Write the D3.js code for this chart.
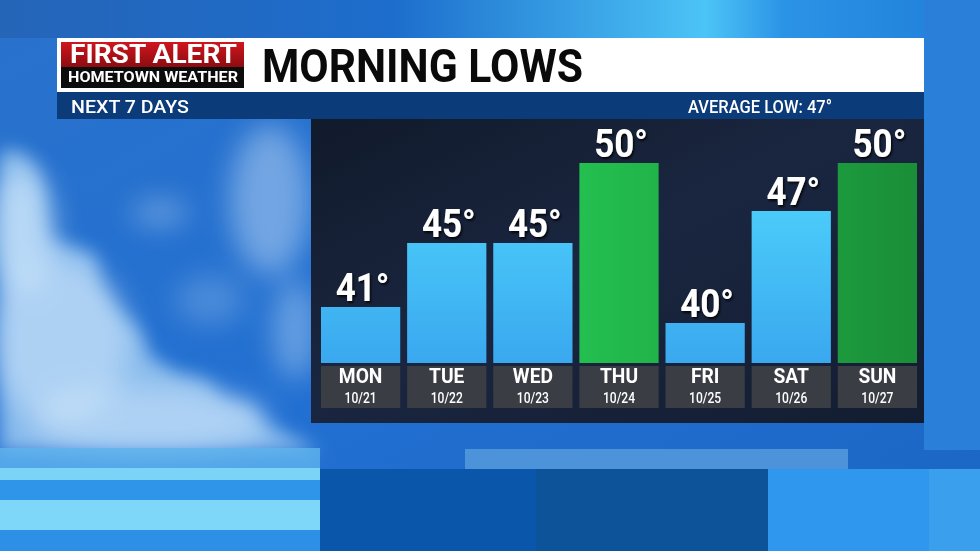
<!DOCTYPE html>
<head>
  <title>Morning Lows</title>
  <style>
    body { margin: 0; background: #1f6fce; }
    svg { display: block; }
    text { font-family: Roboto, "Noto Sans", sans-serif; }
  </style>
</head>
<body>
  <script src="https://cdn.jsdelivr.net/npm/d3@7/dist/d3.min.js"></script>
  <script>
    var days = ["MON", "TUE", "WED", "THU", "FRI", "SAT", "SUN"];
    var dates = ["10/21", "10/22", "10/23", "10/24", "10/25", "10/26", "10/27"];
    var lows = [41, 45, 45, 50, 40, 47, 50];
    var averageLow = 47;

    var data = days.map(function(d, i) {
      return { day: d, date: dates[i], low: lows[i] };
    });

    var W = 980, H = 551;

    var svg = d3.select("body").append("svg")
        .attr("width", W)
        .attr("height", H);

    var defs = svg.append("defs");

    // gradients
    var sky = defs.append("linearGradient").attr("id", "sky")
        .attr("x1", 0).attr("y1", 0).attr("x2", 1).attr("y2", 1);
    sky.append("stop").attr("offset", "0%").attr("stop-color", "#2a72cc");
    sky.append("stop").attr("offset", "50%").attr("stop-color", "#2270d2");
    sky.append("stop").attr("offset", "100%").attr("stop-color", "#1a66c4");

    var topBand = defs.append("linearGradient").attr("id", "topband")
        .attr("x1", 0).attr("y1", 0).attr("x2", 1).attr("y2", 0);
    topBand.append("stop").attr("offset", "0%").attr("stop-color", "#2565b8");
    topBand.append("stop").attr("offset", "40%").attr("stop-color", "#1d6dcc");
    topBand.append("stop").attr("offset", "72%").attr("stop-color", "#4cc4f6");
    topBand.append("stop").attr("offset", "80%").attr("stop-color", "#2b93e6");
    topBand.append("stop").attr("offset", "100%").attr("stop-color", "#1f7ed8");

    var red = defs.append("linearGradient").attr("id", "red")
        .attr("x1", 0).attr("y1", 0).attr("x2", 0).attr("y2", 1);
    red.append("stop").attr("offset", "0%").attr("stop-color", "#d0161e");
    red.append("stop").attr("offset", "100%").attr("stop-color", "#8c0c10");

    var panel = defs.append("linearGradient").attr("id", "panel")
        .attr("x1", 0).attr("y1", 0).attr("x2", 1).attr("y2", 1);
    panel.append("stop").attr("offset", "0%").attr("stop-color", "#111a2b");
    panel.append("stop").attr("offset", "45%").attr("stop-color", "#1a2640");
    panel.append("stop").attr("offset", "100%").attr("stop-color", "#131d31");

    var blueBar = defs.append("linearGradient").attr("id", "blueBar")
        .attr("gradientUnits", "userSpaceOnUse")
        .attr("x1", 0).attr("y1", 164).attr("x2", 0).attr("y2", 363);
    blueBar.append("stop").attr("offset", "0%").attr("stop-color", "#50d6fd");
    blueBar.append("stop").attr("offset", "100%").attr("stop-color", "#3aa8ef");

    var greenBar = defs.append("linearGradient").attr("id", "greenBar")
        .attr("gradientUnits", "userSpaceOnUse")
        .attr("x1", 580).attr("y1", 0).attr("x2", 916).attr("y2", 0);
    greenBar.append("stop").attr("offset", "0%").attr("stop-color", "#23bf4f");
    greenBar.append("stop").attr("offset", "100%").attr("stop-color", "#1a8e38");

    defs.append("filter").attr("id", "blur")
        .attr("x", "-50%").attr("y", "-50%").attr("width", "200%").attr("height", "200%")
      .append("feGaussianBlur").attr("stdDeviation", 14);

    defs.append("filter").attr("id", "softblur")
        .attr("x", "-20%").attr("y", "-20%").attr("width", "140%").attr("height", "140%")
      .append("feGaussianBlur").attr("stdDeviation", 9);

    var shadow = defs.append("filter").attr("id", "shadow")
        .attr("x", "-20%").attr("y", "-20%").attr("width", "140%").attr("height", "140%");
    shadow.append("feDropShadow").attr("dx", 1.5).attr("dy", 2)
        .attr("stdDeviation", 1.2).attr("flood-color", "#000").attr("flood-opacity", 0.85);

    // background sky
    svg.append("rect").attr("width", W).attr("height", H).attr("fill", "url(#sky)");
    svg.append("rect").attr("width", W).attr("height", 38).attr("fill", "url(#topband)");
    svg.append("rect").attr("x", 924).attr("y", 0).attr("width", 56).attr("height", 450)
        .attr("fill", "#2a80d8");

    // clouds on the left
    svg.append("path")
        .attr("d", "M0,150 L22,152 L38,168 L44,190 L46,225 L52,240 L72,246 L95,255 " +
                   "L102,285 L118,310 L140,330 L150,355 L175,372 L205,380 L225,398 " +
                   "L250,405 L268,425 L300,440 L320,452 L0,452 Z")
        .attr("fill", "#a9d3f6").attr("opacity", 0.75)
        .attr("filter", "url(#softblur)");

    var clouds = svg.append("g").attr("filter", "url(#blur)");
    [[20, 230, 35, 60, 0.5], [60, 340, 70, 80, 0.4], [150, 420, 120, 35, 0.4],
     [270, 200, 40, 75, 0.4], [295, 330, 22, 50, 0.35], [160, 213, 28, 12, 0.35],
     [210, 300, 35, 25, 0.2]].forEach(function(c) {
      clouds.append("ellipse")
          .attr("cx", c[0]).attr("cy", c[1]).attr("rx", c[2]).attr("ry", c[3])
          .attr("fill", "#e6f5ff").attr("opacity", c[4]);
    });

    // bottom stripes
    var stripes = svg.append("g");
    stripes.append("rect").attr("x", 0).attr("y", 448).attr("width", 320).attr("height", 20)
        .attr("fill", "#5fb4ee").attr("opacity", 0.8);
    stripes.append("rect").attr("x", 0).attr("y", 468).attr("width", 320).attr("height", 12)
        .attr("fill", "#7bd3f8");
    stripes.append("rect").attr("x", 0).attr("y", 480).attr("width", 320).attr("height", 20)
        .attr("fill", "#2f95e8");
    stripes.append("rect").attr("x", 0).attr("y", 500).attr("width", 320).attr("height", 30)
        .attr("fill", "#7ed6f8");
    stripes.append("rect").attr("x", 0).attr("y", 530).attr("width", 320).attr("height", 21)
        .attr("fill", "#2e8fe6");
    stripes.append("rect").attr("x", 465).attr("y", 449).attr("width", 383).attr("height", 20)
        .attr("fill", "#4d93da");
    stripes.append("rect").attr("x", 320).attr("y", 469).attr("width", 216).attr("height", 82)
        .attr("fill", "#0a56aa");
    stripes.append("rect").attr("x", 536).attr("y", 469).attr("width", 232).attr("height", 82)
        .attr("fill", "#0c5399");
    stripes.append("rect").attr("x", 768).attr("y", 469).attr("width", 161).attr("height", 82)
        .attr("fill", "#2f98ee");
    stripes.append("rect").attr("x", 929).attr("y", 469).attr("width", 51).attr("height", 82)
        .attr("fill", "#3a9fec");

    // header
    svg.append("rect").attr("x", 57).attr("y", 38).attr("width", 867).attr("height", 54)
        .attr("fill", "#ffffff");
    svg.append("rect").attr("x", 61).attr("y", 42).attr("width", 183).attr("height", 25)
        .attr("fill", "url(#red)");
    svg.append("rect").attr("x", 61).attr("y", 67).attr("width", 183).attr("height", 21)
        .attr("fill", "#0c0c0c");
    svg.append("text").attr("x", 70).attr("y", 63)
        .attr("textLength", 167).attr("lengthAdjust", "spacingAndGlyphs")
        .attr("font-size", 25).attr("font-weight", 700).attr("fill", "#fff")
        .text("FIRST ALERT");
    svg.append("text").attr("x", 68).attr("y", 82)
        .attr("textLength", 170).attr("lengthAdjust", "spacingAndGlyphs")
        .attr("font-size", 14).attr("font-weight", 700).attr("fill", "#fff")
        .text("HOMETOWN WEATHER");
    svg.append("text").attr("x", 262).attr("y", 82)
        .attr("textLength", 321).attr("lengthAdjust", "spacingAndGlyphs")
        .attr("font-size", 46).attr("font-weight", 700).attr("fill", "#0a0a0a")
        .text("MORNING LOWS");

    svg.append("rect").attr("x", 57).attr("y", 92).attr("width", 867).attr("height", 27)
        .attr("fill", "#0b3b78");
    svg.append("text").attr("x", 71).attr("y", 113)
        .attr("textLength", 118).attr("lengthAdjust", "spacingAndGlyphs")
        .attr("font-size", 19).attr("font-weight", 500).attr("fill", "#fff")
        .text("NEXT 7 DAYS");
    svg.append("text").attr("x", 688).attr("y", 113)
        .attr("textLength", 144).attr("lengthAdjust", "spacingAndGlyphs")
        .attr("font-size", 19).attr("font-weight", 500).attr("fill", "#fff")
        .text("AVERAGE LOW:  " + averageLow + "°");

    // chart panel
    svg.append("rect").attr("x", 311).attr("y", 119).attr("width", 613).attr("height", 304)
        .attr("fill", "url(#panel)");

    // scales
    var x = d3.scaleBand()
        .domain(days)
        .range([321, 917])
        .paddingInner(0.08);

    var y = d3.scaleLinear()
        .domain([37.5, 50])
        .range([363, 163]);

    var bars = svg.selectAll(".day")
        .data(data)
      .enter().append("g")
        .attr("class", "day");

    bars.append("rect")
        .attr("x", function(d) { return x(d.day); })
        .attr("width", x.bandwidth())
        .attr("y", function(d) { return y(d.low); })
        .attr("height", function(d) { return y.range()[0] - y(d.low); })
        .attr("fill", function(d) { return d.low > averageLow ? "url(#greenBar)" : "url(#blueBar)"; });

    // day label boxes
    bars.append("rect")
        .attr("x", function(d) { return x(d.day); })
        .attr("width", x.bandwidth())
        .attr("y", y.range()[0] + 3)
        .attr("height", 42)
        .attr("fill", "#3a3d43");

    function cx(d) { return x(d.day) + x.bandwidth() / 2; }

    bars.append("text")
        .attr("transform", function(d) {
          return "translate(" + cx(d) + "," + (y.range()[0] + 20) + ") scale(0.96,1)";
        })
        .attr("text-anchor", "middle")
        .attr("font-size", 20).attr("font-weight", 700).attr("fill", "#fff")
        .text(function(d) { return d.day; });

    bars.append("text")
        .attr("transform", function(d) {
          return "translate(" + cx(d) + "," + (y.range()[0] + 40) + ") scale(0.78,1)";
        })
        .attr("text-anchor", "middle")
        .attr("font-size", 15.5).attr("font-weight", 500).attr("fill", "#fff")
        .text(function(d) { return d.date; });

    // value labels
    bars.append("text")
        .attr("transform", function(d) {
          return "translate(" + (cx(d) + 2) + "," + (y(d.low) - 6) + ") scale(0.92,1)";
        })
        .attr("text-anchor", "middle")
        .attr("font-size", 38).attr("font-weight", 700).attr("fill", "#fff")
        .attr("filter", "url(#shadow)")
        .text(function(d) { return d.low + "°"; });
  </script>
</body>
